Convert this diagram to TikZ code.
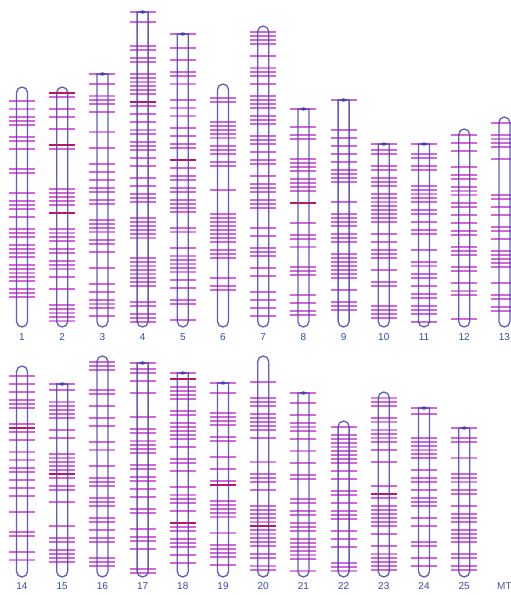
\documentclass[tikz,border=0pt]{standalone}
\usepackage{fontspec}
\setmainfont{Liberation Sans}
\definecolor{bandc}{RGB}{210,85,215}
\definecolor{redb}{RGB}{195,20,95}
\definecolor{outc}{RGB}{65,65,185}
\definecolor{labc}{RGB}{50,75,165}
\tikzset{
  band/.style={draw=bandc,line width=1.3pt,opacity=0.9},
  redband/.style={draw=redb,line width=1.7pt},
  thickband/.style={draw=bandc!70!white,line width=2.5pt},
  outline/.style={draw=outc,line width=1.3pt,opacity=0.85},
  bump/.style={fill=outc},
  lab/.style={text=labc,font=\fontsize{10}{11}\selectfont,inner sep=0pt}
}
% #1 x, #2 top, #3 bottom, #4 type r/f, #5 label, #6 seed
\newcommand\chromo[6]{%
  \pgfmathsetseed{#6}%
  \pgfmathtruncatemacro\chrN{(#3-#2-10)/4}%
  \foreach \i in {0,...,\chrN}{%
    \pgfmathsetmacro\chrR{rnd}%
    \pgfmathsetmacro\chrY{#2+6+4*\i}%
    \ifdim\chrR pt<0.015pt \draw[redband] (#1-13,\chrY) -- (#1+13,\chrY);%
    \else\ifdim\chrR pt<0.05pt \draw[thickband] (#1-13,\chrY) -- (#1+13,\chrY);%
    \else\ifdim\chrR pt<0.52pt \draw[band] (#1-13,\chrY) -- (#1+13,\chrY);%
    \fi\fi\fi
  }%
  \if#4r%
    \draw[outline,rounded corners=5.5pt] (#1-5.5,#2) rectangle (#1+5.5,#3);%
  \else
    \draw[band] (#1-13,#2) -- (#1+13,#2);%
    \draw[outline] (#1-5.5,#2) [rounded corners=5.5pt]-- (#1-5.5,#3) -- (#1+5.5,#3) [sharp corners]-- (#1+5.5,#2) -- cycle;%
    \fill[bump] (#1,#2) ellipse[x radius=2.6,y radius=1.6];%
  \fi
}
\begin{document}
\begin{tikzpicture}[x=1pt,y=-1pt]
\fill[white] (0,0) rectangle (511,595);
\useasboundingbox (0,0) rectangle (511,595);
% top row
\chromo{22}{87}{327}{r}{1}{11}
\chromo{62.2}{87}{327}{r}{2}{23}
\chromo{102.4}{74}{327}{f}{3}{37}
\chromo{142.6}{12}{327}{f}{4}{41}
\chromo{182.8}{34}{327}{f}{5}{53}
\chromo{223}{84}{327}{r}{6}{67}
\chromo{263.2}{26}{327}{r}{7}{71}
\chromo{303.4}{109}{327}{f}{8}{83}
\chromo{343.6}{100}{327}{f}{9}{97}
\chromo{383.8}{144}{327}{f}{10}{101}
\chromo{424}{144}{327}{f}{11}{113}
\chromo{464.2}{129}{327}{r}{12}{127}
\chromo{504.4}{117}{327}{r}{13}{131}
% bottom row
\chromo{22}{366}{577}{r}{14}{149}
\chromo{62.2}{384}{577}{f}{15}{151}
\chromo{102.4}{356}{577}{r}{16}{163}
\chromo{142.6}{363}{577}{f}{17}{173}
\chromo{182.8}{373}{577}{f}{18}{181}
\chromo{223}{383}{577}{f}{19}{191}
\chromo{263.2}{356}{577}{r}{20}{199}
\chromo{303.4}{393}{577}{f}{21}{211}
\chromo{343.6}{421}{577}{r}{22}{223}
\chromo{383.8}{392}{577}{r}{23}{227}
\chromo{424}{408}{577}{f}{24}{239}
\chromo{464.2}{428}{577}{f}{25}{241}
% labels
\foreach \n/\x in {1/22,2/62.2,3/102.4,4/142.6,5/182.8,6/223,7/263.2,8/303.4,9/343.6,10/383.8,11/424,12/464.2,13/504.4}
  \node[lab] (lab\n) at (\x,337) {\n};
\foreach \n/\x in {14/22,15/62.2,16/102.4,17/142.6,18/182.8,19/223,20/263.2,21/303.4,22/343.6,23/383.8,24/424,25/464.2}
  \node[lab] (lab\n) at (\x,586) {\n};
\node[lab,text=labc!70!gray] (labMT) at (504.4,586) {MT};
\end{tikzpicture}
\end{document}
